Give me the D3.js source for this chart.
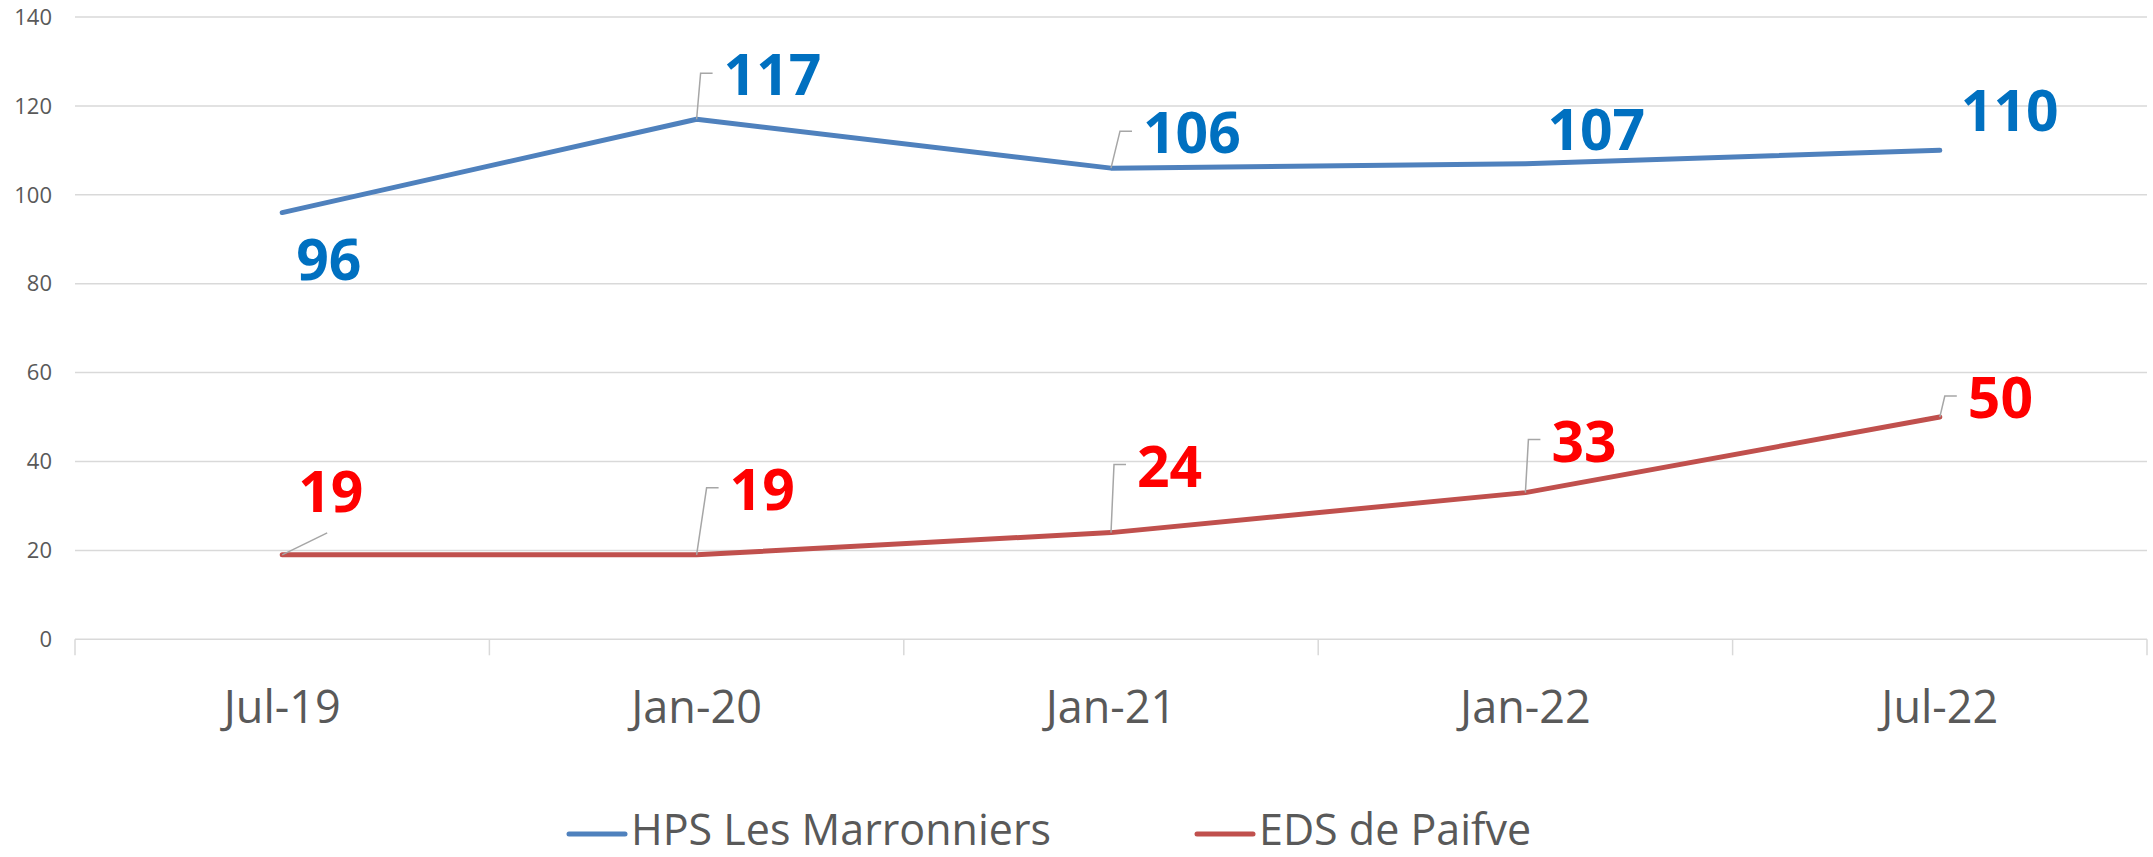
<!DOCTYPE html>
<html>
<head>
<meta charset="utf-8">
<script src="https://cdn.jsdelivr.net/npm/d3@7"></script>
<style>
	body { margin: 0; background: #fff; }
	text { font-family: "Open Sans", "Noto Sans", sans-serif; }
</style>
</head>
<body>
<div id="chart"></div>
<script>
var categories = ["Jul-19", "Jan-20", "Jan-21", "Jan-22", "Jul-22"];
var hpsValues = [96, 117, 106, 107, 110];
var edsValues = [19, 19, 24, 33, 50];
var yTicks = [0, 20, 40, 60, 80, 100, 120, 140];
var seriesNames = ["HPS Les Marronniers", "EDS de Paifve"];

// label placement (offset from point to label left/baseline) and leader type
var hpsLabelPos = [[14, 67, ""], [27, -24, "elbow"], [32, -15, "elbow"], [22, -14, ""], [21, -19, ""]];
var edsLabelPos = [[16, -43, "diag"], [33, -45, "elbow"], [26, -46, "elbow"], [26, -31, "elbow"], [28, 1, "elbow"]];

function draw_chart() {
	var w = 2153;
	var h = 857;
	var left = 75, right = 2147, top = 17, bottom = 639.3;

	var svg = d3.select("#chart")
				.append("svg")
				.attr("width", w)
				.attr("height", h);

	var x = d3.scaleBand()
			  .domain(categories)
			  .range([left, right]);
	var y = d3.scaleLinear()
			  .domain([0, 140])
			  .range([bottom, top]);

	// gridlines
	svg.selectAll("line.grid")
		.data(yTicks)
		.enter()
		.append("line")
		.attr("x1", left)
		.attr("x2", right)
		.attr("y1", d => y(d))
		.attr("y2", d => y(d))
		.attr("stroke", "#d9d9d9")
		.attr("stroke-width", 1.5);

	// y labels
	svg.selectAll("text.ylab")
		.data(yTicks)
		.enter()
		.append("text")
		.attr("x", 52)
		.attr("y", d => y(d))
		.attr("dy", "0.35em")
		.attr("text-anchor", "end")
		.attr("font-size", 22)
		.attr("fill", "#595959")
		.text(d => d);

	// x tick marks at category boundaries
	var bounds = categories.map(c => x(c)).concat([right]);
	svg.selectAll("line.xtick")
		.data(bounds)
		.enter()
		.append("line")
		.attr("x1", d => d)
		.attr("x2", d => d)
		.attr("y1", bottom)
		.attr("y2", bottom + 16)
		.attr("stroke", "#d9d9d9")
		.attr("stroke-width", 1.5);

	svg.selectAll("text.xlab")
		.data(categories)
		.enter()
		.append("text")
		.attr("x", d => x(d) + x.bandwidth() / 2)
		.attr("y", 723)
		.attr("text-anchor", "middle")
		.attr("font-size", 45)
		.attr("fill", "#595959")
		.text(d => d);

	var cx = (d, i) => x(categories[i]) + x.bandwidth() / 2;
	var line = d3.line()
				 .x(cx)
				 .y(d => y(d));

	var series = [
		{vals: hpsValues, col: "#4f81bd", lab: "#0070c0", pos: hpsLabelPos},
		{vals: edsValues, col: "#c0504d", lab: "#ff0000", pos: edsLabelPos}
	];

	series.forEach(s => {
		svg.append("path")
			.attr("d", line(s.vals))
			.attr("fill", "none")
			.attr("stroke", s.col)
			.attr("stroke-width", 5)
			.attr("stroke-linecap", "round")
			.attr("stroke-linejoin", "round");

		s.vals.forEach((v, i) => {
			var px = cx(v, i), py = y(v);
			var lx = px + s.pos[i][0], ly = py + s.pos[i][1];
			var kind = s.pos[i][2];
			if (kind == "elbow") {
				svg.append("path")
					.attr("d", "M" + px + "," + py + "L" + (lx - 23) + "," + (ly - 22) + "L" + (lx - 11) + "," + (ly - 22))
					.attr("fill", "none")
					.attr("stroke", "#a6a6a6")
					.attr("stroke-width", 1.5);
			} else if (kind == "diag") {
				svg.append("path")
					.attr("d", "M" + px + "," + py + "L" + (lx + 29) + "," + (ly + 21))
					.attr("fill", "none")
					.attr("stroke", "#a6a6a6")
					.attr("stroke-width", 1.5);
			}
			svg.append("text")
				.attr("x", lx)
				.attr("y", ly)
				.attr("font-size", 57)
				.attr("font-weight", "bold")
				.attr("fill", s.lab)
				.text(v);
		});
	});

	// legend
	var legX = [569, 1197];
	seriesNames.forEach((n, i) => {
		svg.append("line")
			.attr("x1", legX[i])
			.attr("x2", legX[i] + 56)
			.attr("y1", 834)
			.attr("y2", 834)
			.attr("stroke", series[i].col)
			.attr("stroke-width", 5)
			.attr("stroke-linecap", "round");
		svg.append("text")
			.attr("x", legX[i] + 62)
			.attr("y", 845)
			.attr("font-size", 43)
			.attr("fill", "#595959")
			.text(n);
	});
}

draw_chart();
</script>
</body>
</html>
